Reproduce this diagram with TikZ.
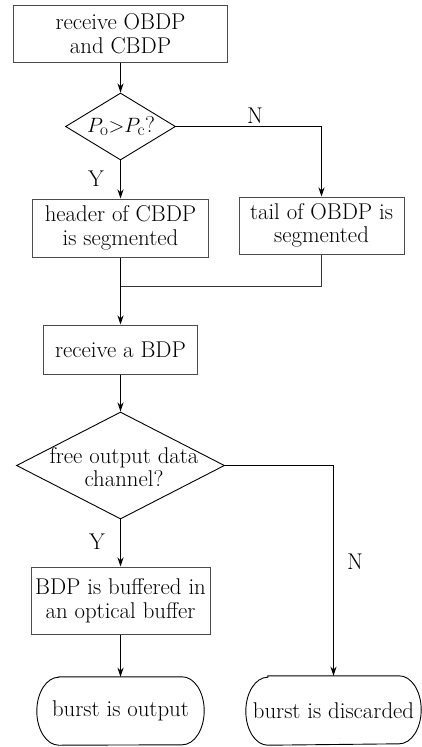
\documentclass[tikz,border=0pt]{standalone}
\usetikzlibrary{arrows.meta,shapes.geometric}
\begin{document}
\begin{tikzpicture}[x=1pt,y=-1pt,
  font=\fontsize{22.8}{23.5}\selectfont,
  box/.style={draw=black!70,line width=1pt,rectangle,inner sep=0pt,align=center},
  dia/.style={draw=black,line width=0.9pt,diamond,inner sep=0pt},
  term/.style={rectangle,inner sep=0pt,align=center},
  termline/.style={draw=black,line width=0.9pt},
  arr/.style={line width=1.6pt,-{Stealth[length=9pt,width=6pt]}},
  thinl/.style={line width=0.9pt,black!80},
  lab/.style={inner sep=0pt}]
\useasboundingbox (0,0) rectangle (422,747);
\node[box,minimum width=214pt,minimum height=57pt] (b1) at (120.5,33.5) {receive OBDP\\and CBDP};
\node[dia,minimum width=110pt,minimum height=67pt] (d1) at (120.5,126.5) {};
\node[lab] (d1t) at (121,126) {$P_{\mathrm{o}}{>}P_{\mathrm{c}}$?};
\node[box,minimum width=176pt,minimum height=58pt] (b2) at (120.5,228) {header of CBDP\\is segmented};
\node[box,minimum width=165pt,minimum height=57pt] (b3) at (321.5,225.5) {tail of OBDP is\\segmented};
\coordinate (m) at (120.5,286);
\node[box,minimum width=154pt,minimum height=49pt] (b4) at (120.5,349.5) {receive a BDP};
\node[dia,minimum width=208pt,minimum height=107pt] (d2) at (120.5,465.5) {};
\node[lab,align=center] (d2t) at (124,467) {free output data\\channel?};
\node[box,minimum width=179pt,minimum height=67pt] (b5) at (120.5,600.5) {BDP is buffered in\\an optical buffer};
\node[term,minimum width=167pt,minimum height=68pt] (t1) at (120.5,711) {burst is output};
\node[term,minimum width=175pt,minimum height=69pt] (t2) at (333.5,710.5) {burst is discarded};
\foreach \t in {t1,t2}{
  \draw[termline] ([xshift=22pt]\t.north west) -- ([xshift=-22pt]\t.north east)
    arc[start angle=90,end angle=-90,x radius=22pt,y radius=34pt]
    -- ([xshift=22pt]\t.south west)
    arc[start angle=270,end angle=90,x radius=22pt,y radius=34pt] -- cycle;
}
\draw[arr] (b1.south) -- (d1.north);
\draw[arr] (d1.south) -- (b2.north);
\draw[arr] (d1.east) -| (b3.north);
\draw[arr] (b2.south) -- (b4.north);
\draw[thinl] (b3.south) |- (m);
\draw[arr] (b4.south) -- (d2.north);
\draw[arr] (d2.south) -- (b5.north);
\draw[arr] (d2.east) -| (t2.north);
\draw[arr] (b5.south) -- (t1.north);
\node[lab] (n1) at (255,116) {N};
\node[lab] (y1) at (96,179) {Y};
\node[lab] (y2) at (97,542) {Y};
\node[lab] (n2) at (355,562) {N};
\end{tikzpicture}
\end{document}
